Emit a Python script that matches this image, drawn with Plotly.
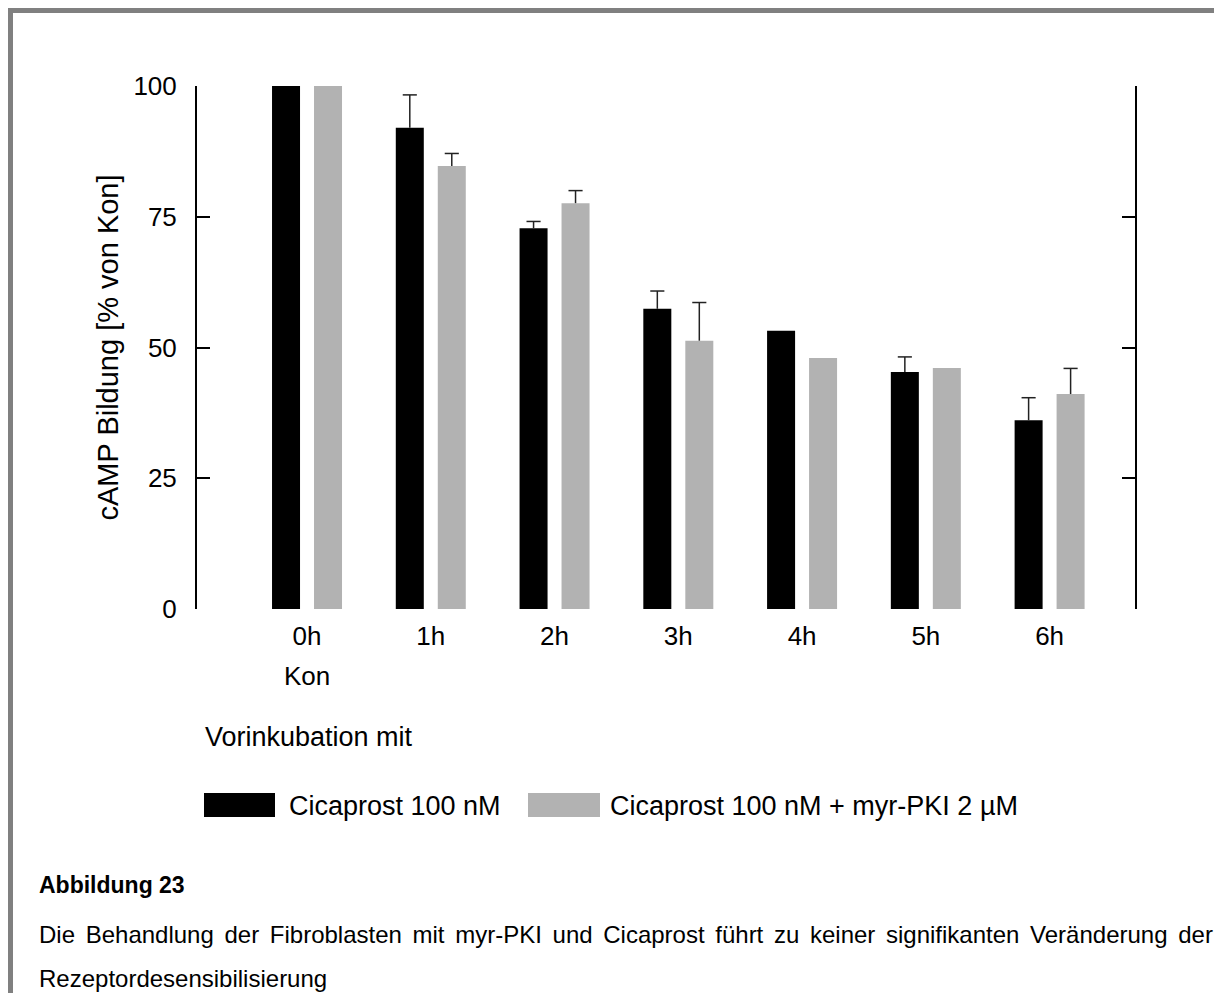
import plotly.graph_objects as go

# data
categories = ["0h", "1h", "2h", "3h", "4h", "5h", "6h"]
control_note = "Kon"
cica = [100, 92.0, 72.8, 57.4, 53.2, 45.3, 36.1]
cica_err = [None, 6.3, 1.3, 3.4, None, 2.9, 4.3]
cica_pki = [100, 84.7, 77.6, 51.3, 48.0, 46.1, 41.1]
cica_pki_err = [None, 2.4, 2.4, 7.3, None, None, 4.9]

# the page body has an 8px margin, so the figure is drawn 8px smaller
OFF = 8
W, H = 1222 - OFF, 1001 - 2 * OFF
L, R, T, B = 197, 1135, 86, 609          # plot area in page px
BARGAP = 0.3215
FONT = "Liberation Sans, Arial, sans-serif"

def px(x):
    return (x - L) / (R - L)

def py(y):
    return (B - y) / (B - T)

xs = list(range(len(categories)))

fig = go.Figure()
fig.add_trace(go.Bar(x=xs, y=cica, name="Cicaprost 100 nM",
                     marker=dict(color="#000000", line=dict(width=0))))
fig.add_trace(go.Bar(x=xs, y=cica_pki, name="Cicaprost 100 nM + myr-PKI 2 µM",
                     marker=dict(color="#b2b2b2", line=dict(width=0))))

# one-sided error bars (upper only), drawn as thin lines
half = (1 - BARGAP) / 4
cap = 0.057
for vals, errs, sgn in [(cica, cica_err, -1), (cica_pki, cica_pki_err, 1)]:
    ex, ey = [], []
    for i, (v, e) in enumerate(zip(vals, errs)):
        if e is None:
            continue
        c = i + sgn * half
        ex += [c, c, None, c - cap, c + cap, None]
        ey += [v, v + e, None, v + e, v + e, None]
    fig.add_trace(go.Scatter(x=ex, y=ey, mode="lines", showlegend=False,
                             line=dict(color="#222222", width=1.5),
                             hoverinfo="skip"))

fig.update_layout(
    width=W, height=H,
    margin=dict(l=L - OFF, r=W - (R - OFF), t=T - OFF, b=H - (B - OFF), pad=0),
    paper_bgcolor="white", plot_bgcolor="white",
    barmode="group", bargap=BARGAP, bargroupgap=0.333,
    showlegend=False,
    font=dict(family=FONT, color="black", size=26),
    xaxis=dict(range=[-0.889, 6.69], tickvals=xs, ticktext=categories,
               showline=False, showgrid=False, zeroline=False, ticks="",
               tickfont=dict(size=26), ticklabelstandoff=9),
    yaxis=dict(range=[0, 100], tickvals=[0, 25, 50, 75, 100],
               showline=True, linecolor="black", linewidth=2, mirror="ticks",
               ticks="inside", ticklen=13, tickwidth=2, tickcolor="black",
               showgrid=False, zeroline=False, tickfont=dict(size=26),
               ticklabelstandoff=13),
)

# justified caption line: widen every word gap a little
caption_1 = ("Die Behandlung der Fibroblasten mit myr-PKI und Cicaprost "
             "führt zu keiner signifikanten Veränderung der")
caption_1 = caption_1.replace(" ", " \u2006")

ann = [
    dict(text="cAMP Bildung [% von Kon]", x=px(107), y=0.5, textangle=-90,
         font=dict(size=29)),
    dict(text="Vorinkubation mit", x=px(203), y=py(737), xanchor="left",
         font=dict(size=27)),
    dict(text="Cicaprost 100 nM", x=px(287), y=py(806), xanchor="left",
         font=dict(size=27)),
    dict(text="Cicaprost 100 nM + myr-PKI 2 µM", x=px(608), y=py(806),
         xanchor="left", font=dict(size=27)),
    dict(text="<b>Abbildung 23</b>", x=px(37), y=py(885), xanchor="left",
         font=dict(size=23)),
    dict(text=caption_1, x=px(37), y=py(934), xanchor="left",
         font=dict(size=24)),
    dict(text="Rezeptordesensibilisierung", x=px(37), y=py(978),
         xanchor="left", font=dict(size=24)),
]
for a in ann:
    a.update(xref="paper", yref="paper", showarrow=False, yanchor="middle")
    a.setdefault("xanchor", "center")
# second line under the 0h tick label
ann.append(dict(text=control_note, x=xs[0], xref="x", y=py(676),
                yref="paper", showarrow=False, yanchor="middle",
                font=dict(size=26)))
fig.update_layout(annotations=ann)

shapes = [
    # legend swatches
    dict(type="rect", x0=px(204), x1=px(275), y0=py(793), y1=py(817),
         fillcolor="#000000", line=dict(width=0)),
    dict(type="rect", x0=px(528), x1=px(600), y0=py(793), y1=py(817),
         fillcolor="#b2b2b2", line=dict(width=0)),
    # page frame
    dict(type="rect", x0=px(10), x1=px(1220), y0=py(10), y1=py(1030),
         line=dict(color="#808080", width=6), fillcolor="rgba(0,0,0,0)"),
]
for s in shapes:
    s.update(xref="paper", yref="paper", layer="above")
fig.update_layout(shapes=shapes)

fig.write_html("out.html")
